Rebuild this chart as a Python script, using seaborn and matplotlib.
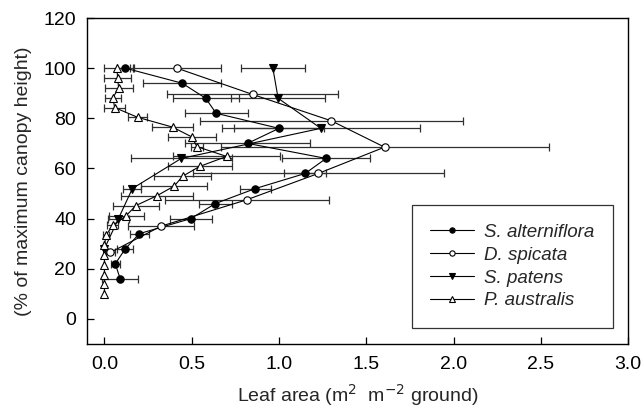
import numpy as np
import pandas as pd
import seaborn as sns
import matplotlib.pyplot as plt

# ---------------- DATA ----------------
# S. alterniflora
sa_h = [100, 94, 88, 82, 76, 70, 64, 58, 52, 46, 40, 34, 28, 22, 16]
sa_x = [0.12, 0.445, 0.58, 0.64, 1.00, 0.82, 1.27, 1.15, 0.865, 0.635, 0.495, 0.20, 0.12, 0.062, 0.09]
sa_e = [0.05, 0.225, 0.19, 0.18, 0.26, 0.36, 0.25, 0.12, 0.09, 0.096, 0.12, 0.055, 0.046, 0.026, 0.105]

# D. spicata
ds_h = [100, 89.5, 79, 68.5, 58, 47.5, 37, 26.5]
ds_x = [0.415, 0.85, 1.30, 1.605, 1.225, 0.815, 0.325, 0.033]
ds_e = [0.25, 0.49, 0.755, 0.94, 0.72, 0.47, 0.19, 0.025]

# S. patens
sp_h = [100, 88, 76, 64, 52, 40, 28]
sp_x = [0.965, 0.995, 1.24, 0.44, 0.16, 0.08, 0.0]
sp_e = [0.185, 0.27, 0.567, 0.29, 0.052, 0.06, 0.0]

# P. australis
pa_h = [100, 96.1, 92.2, 88.2, 84.3, 80.4, 76.5, 72.6, 68.7, 64.8, 60.8, 56.9,
        53.0, 49.1, 45.2, 41.2, 37.3, 33.4, 29.5, 25.6, 21.7, 17.7, 13.8, 9.9]
pa_x = [0.072, 0.075, 0.081, 0.049, 0.058, 0.19, 0.39, 0.50, 0.53, 0.70, 0.545, 0.448,
        0.40, 0.30, 0.18, 0.125, 0.047, 0.009, 0.0, 0.0, 0.0, 0.0, 0.0, 0.0]
pa_e = [0.075, 0.075, 0.08, 0.045, 0.06, 0.053, 0.12, 0.138, 0.036, 0.308, 0.183, 0.164,
        0.19, 0.205, 0.131, 0.10, 0.03, 0.015, 0, 0, 0, 0, 0, 0]

x_ticks = [0.0, 0.5, 1.0, 1.5, 2.0, 2.5, 3.0]
y_ticks = [0, 20, 40, 60, 80, 100, 120]

# ---------------- STYLE ----------------
sns.set_style("ticks")
plt.rcParams['font.family'] = ['Liberation Sans', 'DejaVu Sans']

series = [
    ("S. alterniflora", sa_x, sa_h, sa_e, dict(marker='o', mfc='black', ms=5.3)),
    ("D. spicata", ds_x, ds_h, ds_e, dict(marker='o', mfc='white', ms=5.3)),
    ("S. patens", sp_x, sp_h, sp_e, dict(marker='v', mfc='black', ms=6.3)),
    ("P. australis", pa_x, pa_h, pa_e, dict(marker='^', mfc='white', ms=6.0)),
]

fig = plt.figure(figsize=(6.44, 4.15), dpi=100)
ax = fig.add_axes([0.1351, 0.1711, 0.8401, 0.7855])

for name, xs, hs, es, st in series:
    df = pd.DataFrame({"leaf": xs, "height": hs})
    ax.errorbar(xs, hs, xerr=es, fmt='none', ecolor='#303030', elinewidth=0.9,
                capsize=3, capthick=0.9, zorder=1)
    sns.lineplot(data=df, x="leaf", y="height", sort=False, estimator=None,
                 color='black', linewidth=0.8, mec='black', mew=0.8,
                 label=name, ax=ax, zorder=3, **st)

ax.set_xlim(-0.1, 3.0)
ax.set_ylim(-10, 120)
ax.set_xticks(x_ticks)
ax.set_xticklabels([f"{t:.1f}" for t in x_ticks])
ax.set_yticks(y_ticks)
ax.tick_params(direction='in', length=5, width=0.9, labelsize=14, colors='black')
ax.tick_params(axis='y', pad=8)
ax.tick_params(axis='x', pad=9)
for s in ax.spines.values():
    s.set_visible(True)
    s.set_color('black')
    s.set_linewidth(1.0)

ax.set_xlabel("Leaf area (m$^2$  m$^{-2}$ ground)", fontsize=14, labelpad=6)
ax.set_ylabel("(% of maximum canopy height)", fontsize=14, labelpad=8)

leg = ax.legend(loc='lower right', bbox_to_anchor=(0.972, 0.049), borderaxespad=0,
                frameon=True, fancybox=False, shadow=False,
                prop={'style': 'italic', 'size': 13.5}, handlelength=2.3,
                labelspacing=0.3, borderpad=1.0, handletextpad=0.55)
leg.get_frame().set_edgecolor('black')
leg.get_frame().set_linewidth(0.9)
for h in leg.legend_handles:
    h.set_markersize(3.8)

fig.savefig("out.png", dpi=100)
